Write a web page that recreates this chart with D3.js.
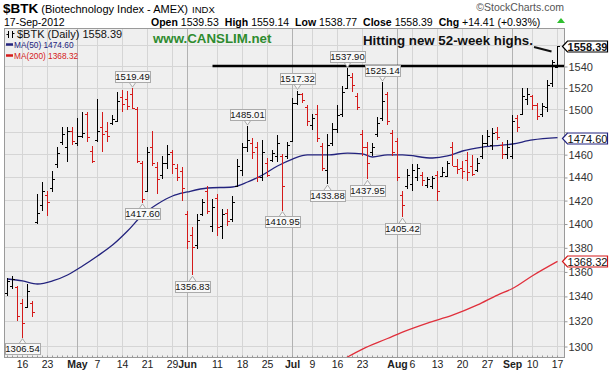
<!DOCTYPE html>
<html>
<head>
<meta charset="utf-8">
<script src="https://cdn.jsdelivr.net/npm/d3@7/dist/d3.min.js"></script>
<style>
  body { margin: 0; background: #fff; }
  svg { display: block; }
  text { font-family: "Liberation Sans", Arial, sans-serif; }
</style>
</head>
<body>
<div id="container"></div>
<script>
/* CONSTANTS AND GLOBALS */
const width = 612;
const height = 378;
const plot = { left: 4.5, right: 564.5, top: 28.5, bottom: 357.5 };

/* DATA */
// trading days shown, by month
const aprDays = [11, 12, 13, 16, 17, 18, 19, 20, 23, 24, 25, 26, 27, 30];
const mayDays = [1, 2, 3, 4, 7, 8, 9, 10, 11, 14, 15, 16, 17, 18, 21, 22, 23, 24, 25, 29, 30, 31];
const junDays = [1, 4, 5, 6, 7, 8, 11, 12, 13, 14, 15, 18, 19, 20, 21, 22, 25, 26, 27, 28, 29];
const julDays = [2, 3, 5, 6, 9, 10, 11, 12, 13, 16, 17, 18, 19, 20, 23, 24, 25, 26, 27, 30, 31];
const augDays = [1, 2, 3, 6, 7, 8, 9, 10, 13, 14, 15, 16, 17, 20, 21, 22, 23, 24, 27, 28, 29, 30, 31];
const sepDays = [4, 5, 6, 7, 10, 11, 12, 13, 14, 17];

const opens = [1342, 1348, 1347, 1334, 1331, 1334, 1401, 1416, 1424, 1430, 1451, 1471, 1466, 1481,
  1470, 1476, 1496, 1463, 1473, 1484, 1481, 1488, 1490, 1511, 1510, 1514, 1500, 1452, 1428, 1466, 1449, 1442, 1452, 1462, 1448, 1445,
  1408, 1390, 1382, 1408, 1428, 1398, 1422, 1398, 1409, 1404, 1432, 1446, 1466, 1470, 1466, 1440, 1452, 1455, 1458, 1458, 1458,
  1472, 1506, 1514, 1502, 1486, 1496, 1467, 1446, 1470, 1482, 1496, 1520, 1530, 1512, 1478, 1466, 1462, 1478, 1492, 1514, 1479,
  1472, 1424, 1432, 1434, 1440, 1442, 1433, 1432, 1442, 1441, 1441, 1466, 1450, 1448, 1455, 1450, 1446, 1458, 1470, 1468, 1480, 1468, 1460,
  1458, 1492, 1496, 1510, 1512, 1504, 1496, 1502, 1524, 1539.53];
const highs = [1355, 1356, 1348, 1337.5, 1350, 1336, 1425, 1436, 1427.7, 1445, 1466, 1484.4, 1484.4, 1484,
  1492.4, 1497.8, 1497.8, 1467.6, 1509.6, 1497.8, 1488.8, 1495, 1516, 1517.8, 1517, 1519.49, 1502, 1453.6, 1466, 1481, 1453, 1458, 1468.5, 1464, 1451, 1448.3,
  1410.6, 1397, 1408, 1420.8, 1432, 1420.8, 1425, 1412.3, 1412.3, 1423.4, 1455.3, 1470, 1485.01, 1474.7, 1471.2, 1472.9, 1457, 1464, 1477.3, 1460, 1471,
  1510.5, 1517.32, 1515, 1504, 1496, 1504, 1470.3, 1478.2, 1487.9, 1504, 1521.4, 1537.9, 1533.5, 1515, 1481.7, 1471, 1470, 1493.3, 1525.14, 1516, 1481.7,
  1474.7, 1427.7, 1446.6, 1451, 1451, 1444, 1440, 1440.6, 1444.9, 1448.3, 1454, 1471.2, 1455.3, 1453.6, 1461.5, 1459.7, 1457, 1477.3, 1481.7, 1483.5, 1484.4, 1471.2, 1472.9,
  1495, 1495, 1519.6, 1519.6, 1513.2, 1506, 1506, 1527, 1545.6, 1559.14];
const lows = [1340, 1346, 1320, 1306.54, 1330, 1323, 1400, 1410.6, 1406.3, 1427, 1448, 1468.5, 1453, 1468.5,
  1466.8, 1474.7, 1471.2, 1452, 1471.2, 1462.3, 1471.2, 1486, 1488.8, 1497.8, 1499.6, 1500, 1452.6, 1417.6, 1427, 1449.2, 1425, 1438, 1446.6, 1442.3, 1436.3, 1419,
  1378.7, 1356.83, 1378.7, 1406.3, 1408, 1393, 1389.5, 1387, 1398, 1401.3, 1431, 1440.6, 1462.3, 1455.3, 1435.5, 1436.3, 1439.7, 1452.7, 1452.7, 1410.95, 1456,
  1471.2, 1504, 1506, 1485.3, 1481.7, 1471.2, 1444.9, 1433.88, 1466.8, 1479, 1493.3, 1519.6, 1516, 1499.6, 1458, 1437.95, 1458, 1475.6, 1490, 1486.2, 1458,
  1436.3, 1405.42, 1429.4, 1427.7, 1436.3, 1432, 1430.2, 1429.4, 1419.1, 1439.7, 1440, 1449.2, 1442.3, 1438, 1436.3, 1441, 1444, 1455.3, 1466.8, 1464.1, 1472.9, 1455.3, 1455.3,
  1455.3, 1479.9, 1495, 1504, 1499.6, 1490.6, 1493.3, 1497.8, 1520.5, 1538.77];
const closes = [1352, 1354, 1324, 1318, 1344, 1327, 1409, 1428, 1418, 1438, 1461, 1478, 1481, 1472,
  1476, 1479, 1475, 1454, 1481, 1478, 1476, 1491, 1508, 1505, 1503, 1501, 1454, 1421, 1462, 1452, 1438, 1452, 1460, 1451, 1440, 1430,
  1385, 1380, 1403, 1418, 1411, 1414, 1397, 1408, 1402, 1418, 1450, 1466, 1473, 1462, 1440, 1462, 1442, 1461, 1470, 1432, 1468,
  1506, 1514, 1509, 1490, 1492, 1474, 1448, 1468, 1482, 1495, 1516, 1532, 1522, 1502, 1466, 1452, 1466, 1488, 1508, 1490, 1462,
  1440, 1416, 1442, 1446, 1448, 1437, 1438, 1439, 1428, 1444, 1452, 1450, 1447, 1445, 1444, 1443, 1452, 1470, 1476, 1479, 1475, 1460, 1466,
  1490, 1484, 1512, 1514, 1504, 1494, 1503, 1522, 1543.98, 1558.39];

const ma50Dates = ["Apr 11", "Apr 16", "Apr 19", "Apr 24", "Apr 27", "May 2", "May 7", "May 10", "May 15", "May 18", "May 23",
  "May 29", "Jun 1", "Jun 7", "Jun 14", "Jun 19", "Jun 22", "Jun 27", "Jul 2", "Jul 6", "Jul 12", "Jul 18", "Jul 23", "Jul 25",
  "Jul 30", "Aug 2", "Aug 10", "Aug 15", "Aug 20", "Aug 24", "Sep 4", "Sep 10", "Sep 17"];
const ma50Values = [1353.8, 1352.2, 1349.7, 1352.2, 1357.1, 1364.5, 1372.8, 1381.9, 1393.7, 1407.2, 1416.6,
  1423.5, 1427.0, 1430.4, 1431.3, 1435.6, 1441.7, 1449.6, 1455.7, 1459.3, 1459.3, 1461.0, 1460.2, 1457.5,
  1459.3, 1459.3, 1456.6, 1458.4, 1462.8, 1466.3, 1469.0, 1472.6, 1474.60];

const ma200Dates = ["Jul 16", "Jul 18", "Jul 23", "Jul 30", "Aug 2", "Aug 9", "Aug 16", "Aug 23", "Aug 29", "Sep 4", "Sep 10", "Sep 17"];
const ma200Values = [1287, 1291.4, 1297.6, 1305.9, 1311, 1318.2, 1324.5, 1332.7, 1340.7, 1346, 1356.5, 1368.32];

const tickDates = ["Apr 16", "Apr 23", "May 1", "May 7", "May 14", "May 21", "May 29", "Jun 1", "Jun 11", "Jun 18", "Jun 25",
  "Jul 2", "Jul 9", "Jul 16", "Jul 23", "Aug 1", "Aug 6", "Aug 13", "Aug 20", "Aug 27", "Sep 4", "Sep 10", "Sep 17"];
const tickLabels = ["16", "23", "May", "7", "14", "21", "29", "Jun", "11", "18", "25",
  "Jul", "9", "16", "23", "Aug", "6", "13", "20", "27", "Sep", "10", "17"];
const monthTicks = ["May 1", "Jun 1", "Jul 2", "Aug 1", "Sep 4"];
const priceTicks = [1300, 1320, 1340, 1360, 1380, 1400, 1420, 1440, 1460, 1480, 1500, 1520, 1540, 1560];
// labels that are not hidden behind the value tags
const priceLabels = [1300, 1320, 1340, 1360, 1380, 1400, 1420, 1440, 1460, 1500, 1520, 1540];

// swing highs / lows that carry a value label
const peakDates = ["Apr 16", "May 16", "May 18", "Jun 4", "Jun 19", "Jun 28", "Jul 3", "Jul 12", "Jul 18", "Jul 24", "Jul 27", "Aug 2"];
const peakValues = [1306.54, 1519.49, 1417.60, 1356.83, 1485.01, 1410.95, 1517.32, 1433.88, 1537.90, 1437.95, 1525.14, 1405.42];
const peakSides = ["below", "above", "below", "below", "above", "below", "above", "below", "above", "below", "above", "below"];

const resistance = 1540;
const resistanceFrom = "Jun 8";
const lastClose = 1558.39, lastMA50 = 1474.60, lastMA200 = 1368.32;

const dates = [
  ...aprDays.map(d => "Apr " + d), ...mayDays.map(d => "May " + d), ...junDays.map(d => "Jun " + d),
  ...julDays.map(d => "Jul " + d), ...augDays.map(d => "Aug " + d), ...sepDays.map(d => "Sep " + d)
];
const bars = dates.map((d, i) => ({
  date: d, open: opens[i], high: highs[i], low: lows[i], close: closes[i],
  up: i === 0 || closes[i] >= closes[i - 1]
}));

/* SCALES */
const xScale = d3.scaleBand()
  .domain(dates)
  .range([plot.left, plot.left + 5 * dates.length]);
const cx = d => Math.round(xScale(d) + 2) + 0.5;

const yScale = d3.scaleLog()
  .domain([1290.99, 1575.34])
  .range([plot.bottom, plot.top]);
const cy = v => Math.round(yScale(v)) + 0.5;

const RED = "#d41a1a";
const NAVY = "#23237e";

/* HTML ELEMENTS */
const svg = d3.select("#container")
  .append("svg")
  .attr("width", width)
  .attr("height", height)
  .style("background-color", "white");

svg.append("defs").append("clipPath").attr("id", "clip")
  .append("rect")
  .attr("x", plot.left).attr("y", plot.top)
  .attr("width", plot.right - plot.left).attr("height", plot.bottom - plot.top);

svg.append("rect")
  .attr("x", plot.left).attr("y", plot.top)
  .attr("width", plot.right - plot.left).attr("height", plot.bottom - plot.top)
  .attr("fill", "#efefef");

// grid
svg.append("g").selectAll("line")
  .data(priceTicks)
  .join("line")
  .attr("x1", plot.left).attr("x2", plot.right)
  .attr("y1", d => cy(d)).attr("y2", d => cy(d))
  .attr("stroke", "#d5d5d5");

svg.append("g").selectAll("line")
  .data(tickDates)
  .join("line")
  .attr("x1", d => cx(d)).attr("x2", d => cx(d))
  .attr("y1", plot.top).attr("y2", plot.bottom)
  .attr("stroke", d => monthTicks.includes(d) ? "#b2b2b2" : "#d5d5d5");

// small day ticks along the bottom edge
svg.append("g").selectAll("line")
  .data(dates)
  .join("line")
  .attr("x1", d => cx(d)).attr("x2", d => cx(d))
  .attr("y1", plot.bottom - 2).attr("y2", plot.bottom)
  .attr("stroke", "#999");

const chart = svg.append("g").attr("clip-path", "url(#clip)");

// moving averages
const line = d3.line()
  .x(d => cx(d[0]))
  .y(d => yScale(d[1]))
  .curve(d3.curveMonotoneX);

chart.append("path")
  .datum(d3.zip(ma200Dates, ma200Values))
  .attr("d", line)
  .attr("fill", "none")
  .attr("stroke", "#e0303c")
  .attr("stroke-width", 1.3);

chart.append("path")
  .datum(d3.zip(ma50Dates, ma50Values))
  .attr("d", line)
  .attr("fill", "none")
  .attr("stroke", NAVY)
  .attr("stroke-width", 1.3);

// OHLC bars
const barG = chart.selectAll(".bar")
  .data(bars)
  .join("g")
  .attr("class", "bar")
  .attr("stroke", d => d.up ? "#000" : RED)
  .attr("stroke-width", 1)
  .attr("shape-rendering", "crispEdges");

barG.append("line")
  .attr("x1", d => cx(d.date)).attr("x2", d => cx(d.date))
  .attr("y1", d => yScale(d.high)).attr("y2", d => yScale(d.low));
barG.append("line")
  .attr("x1", d => cx(d.date) - 2.5).attr("x2", d => cx(d.date))
  .attr("y1", d => cy(d.open)).attr("y2", d => cy(d.open));
barG.append("line")
  .attr("x1", d => cx(d.date)).attr("x2", d => cx(d.date) + 2.5)
  .attr("y1", d => cy(d.close)).attr("y2", d => cy(d.close));

// resistance line
chart.append("line")
  .attr("x1", cx(resistanceFrom)).attr("x2", plot.right)
  .attr("y1", yScale(resistance)).attr("y2", yScale(resistance))
  .attr("stroke", "#000")
  .attr("stroke-width", 2.5);

// value labels on swing highs and lows
const peaks = d3.zip(peakDates, peakValues, peakSides);
const peakG = svg.append("g").selectAll("g")
  .data(peaks)
  .join("g")
  .attr("transform", d => {
    const x = cx(d[0]);
    const y = yScale(d[1]);
    return `translate(${x},${d[2] === "above" ? y - 1 : y + 1})`;
  });

const boxW = 35, boxH = 11, gap = 5;
peakG.append("path")
  .attr("d", d => d[2] === "above"
    ? `M-3.5,${-gap} L0,0 L3.5,${-gap}`
    : `M-3.5,${gap} L0,0 L3.5,${gap}`)
  .attr("fill", "#f8f8f8")
  .attr("stroke", "#aaa");
peakG.append("rect")
  .attr("x", -boxW / 2)
  .attr("y", d => d[2] === "above" ? -gap - boxH : gap)
  .attr("width", boxW).attr("height", boxH)
  .attr("fill", "#f8f8f8")
  .attr("stroke", "#aaa")
  .attr("shape-rendering", "crispEdges");
peakG.append("text")
  .attr("y", d => d[2] === "above" ? -gap - 2.5 : gap + boxH - 2.5)
  .attr("text-anchor", "middle")
  .attr("font-size", 9.5)
  .attr("fill", "#111")
  .text(d => d[1].toFixed(2));

// plot frame
svg.append("rect")
  .attr("x", plot.left).attr("y", plot.top)
  .attr("width", plot.right - plot.left).attr("height", plot.bottom - plot.top)
  .attr("fill", "none")
  .attr("stroke", "#9a9a9a");

/* AXES */
const yAxis = d3.axisRight(yScale)
  .tickValues(priceTicks)
  .tickFormat(d => priceLabels.includes(d) ? d3.format("d")(d) : "")
  .tickSize(3)
  .tickPadding(1);
svg.append("g")
  .attr("transform", `translate(${plot.right},0.5)`)
  .call(yAxis)
  .call(g => g.select(".domain").remove())
  .call(g => g.selectAll("line").attr("stroke", "#999"))
  .call(g => g.selectAll("text").attr("font-size", 11).attr("fill", "#333")
    .attr("font-family", '"Liberation Sans", Arial, sans-serif'));

const xAxis = d3.axisBottom(xScale)
  .tickValues(tickDates)
  .tickFormat((d, i) => tickLabels[i])
  .tickSize(0)
  .tickPadding(3.5);
svg.append("g")
  .attr("transform", `translate(0.5,${plot.bottom})`)
  .call(xAxis)
  .call(g => g.select(".domain").remove())
  .call(g => g.selectAll("text")
    .attr("font-size", 10.5)
    .attr("fill", "#222")
    .attr("font-family", '"Liberation Sans", Arial, sans-serif')
    .attr("font-weight", d => monthTicks.includes(d) ? "bold" : "normal"));

// last-value tags on the right
function tag(value, color, bold) {
  const y = Math.round(yScale(value)) + 0.5;
  const x0 = plot.right - 2;
  svg.append("path")
    .attr("d", `M${x0},${y} L${x0 + 5},${y - 5.5} L${x0 + 45},${y - 5.5} L${x0 + 45},${y + 5.5} L${x0 + 5},${y + 5.5} Z`)
    .attr("fill", "#fff")
    .attr("stroke", color)
    .attr("stroke-width", 1.2);
  svg.append("text")
    .attr("x", x0 + 25).attr("y", y + 4)
    .attr("text-anchor", "middle")
    .attr("font-size", 11)
    .attr("font-weight", bold ? "bold" : "normal")
    .attr("fill", "#111")
    .text(value.toFixed(2));
}
tag(lastMA50, NAVY, false);
tag(lastMA200, RED, false);
tag(lastClose, "#000", true);

/* HEADER */
const title = svg.append("text").attr("x", 3).attr("y", 13);
title.append("tspan").attr("font-weight", "bold").attr("font-size", 13.5).text("$BTK");
title.append("tspan").attr("font-size", 11).attr("dx", 3).text("(Biotechnology Index - AMEX)");
title.append("tspan").attr("font-size", 9.5).attr("dx", 4).text("INDX");

svg.append("text").attr("x", 4).attr("y", 25.5).attr("font-size", 10.5).text("17-Sep-2012");

const quote = [["Open", bars[110].open.toFixed(2)], ["High", bars[110].high.toFixed(2)],
  ["Low", bars[110].low.toFixed(2)], ["Close", bars[110].close.toFixed(2)], ["Chg", "+14.41 (+0.93%)"]];
const qt = svg.append("text").attr("x", 151).attr("y", 25.5).attr("font-size", 10.5);
quote.forEach((q, i) => {
  qt.append("tspan").attr("font-weight", "bold").attr("dx", i ? 6 : 0).text(q[0]);
  qt.append("tspan").attr("dx", 3).text(q[1]);
});
svg.append("path").attr("d", "M557,23 L561,18 L565,23 Z").attr("fill", "#2fbf2f");

svg.append("text").attr("x", 564).attr("y", 11).attr("text-anchor", "end")
  .attr("font-size", 10.5).attr("fill", "#555").text("\u00A9StockCharts.com");

// legend
const lg = svg.append("g").attr("font-family", '"DejaVu Sans", Verdana, sans-serif');
lg.append("path").attr("d", "M8.5,31 V38 M6.5,34.5 H8.5 M12.5,31 V38 M12.5,33.5 H14.5")
  .attr("stroke", "#000").attr("fill", "none");
lg.append("text").attr("x", 17).attr("y", 38).attr("font-size", 11).attr("fill", "#111")
  .text("$BTK (Daily) " + lastClose.toFixed(2));
lg.append("line").attr("x1", 6).attr("x2", 13).attr("y1", 44.5).attr("y2", 44.5)
  .attr("stroke", NAVY).attr("stroke-width", 2.5);
lg.append("text").attr("x", 14).attr("y", 48).attr("font-size", 8.3).attr("fill", NAVY)
  .text("MA(50) " + lastMA50.toFixed(2));
lg.append("line").attr("x1", 6).attr("x2", 13).attr("y1", 55.5).attr("y2", 55.5)
  .attr("stroke", RED).attr("stroke-width", 2.5);
lg.append("text").attr("x", 14).attr("y", 59).attr("font-size", 8.3).attr("fill", RED)
  .text("MA(200) " + lastMA200.toFixed(2));

// annotations
svg.append("text").attr("x", 153).attr("y", 43).attr("font-size", 13.3)
  .attr("font-weight", "bold").attr("fill", "#2e8b2e").text("www.CANSLIM.net");
svg.append("text").attr("x", 363).attr("y", 45).attr("font-size", 13.3)
  .attr("font-weight", "bold").attr("fill", "#111").text("Hitting new 52-week highs.");
svg.append("line")
  .attr("x1", 534).attr("y1", 47).attr("x2", cx("Sep 17") - 6).attr("y2", yScale(highs[110]) + 6)
  .attr("stroke", "#111").attr("stroke-width", 2);
</script>
</body>
</html>
